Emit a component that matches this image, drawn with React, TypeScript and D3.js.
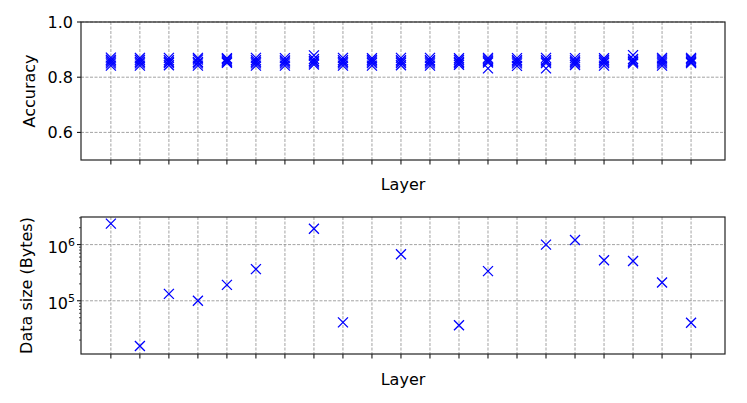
import React from 'react';
import * as d3 from 'd3';

// layer indices (x axis, no tick labels drawn)
const layers = [0, 1, 2, 3, 4, 5, 6, 7, 8, 9, 10, 11, 12, 13, 14, 15, 16, 17, 18, 19, 20];

// accuracy of several runs per layer
const accRun1 = [0.871, 0.870, 0.870, 0.870, 0.869, 0.870, 0.869, 0.879, 0.870, 0.869, 0.870, 0.870, 0.869, 0.870, 0.869, 0.870, 0.869, 0.869, 0.880, 0.870, 0.870];
const accRun2 = [0.863, 0.863, 0.862, 0.864, 0.865, 0.862, 0.861, 0.866, 0.862, 0.863, 0.862, 0.862, 0.863, 0.864, 0.862, 0.862, 0.861, 0.863, 0.866, 0.864, 0.865];
const accRun3 = [0.857, 0.856, 0.856, 0.855, 0.860, 0.856, 0.857, 0.859, 0.856, 0.857, 0.857, 0.857, 0.856, 0.858, 0.857, 0.857, 0.856, 0.857, 0.860, 0.857, 0.860];
const accRun4 = [0.850, 0.850, 0.851, 0.850, 0.856, 0.850, 0.850, 0.853, 0.850, 0.851, 0.851, 0.850, 0.851, 0.853, 0.850, 0.851, 0.850, 0.851, 0.855, 0.850, 0.855];
const accRun5 = [0.842, 0.842, 0.843, 0.842, 0.852, 0.842, 0.842, 0.846, 0.842, 0.842, 0.843, 0.842, 0.845, 0.832, 0.841, 0.832, 0.844, 0.842, 0.850, 0.842, 0.851];
const accRuns = [accRun1, accRun2, accRun3, accRun4, accRun5];

// data size in bytes (null = no point for that layer)
const dataSize: (number | null)[] = [2.36e6, 1.57e4, 1.33e5, 1.0e5, 1.92e5, 3.66e5, null, 1.92e6, 4.13e4, null, 6.73e5, null, 3.66e4, 3.37e5, null, 1.0e6, 1.21e6, 5.26e5, 5.12e5, 2.12e5, 4.06e4];

const accTicks = [0.6, 0.8, 1.0];
const sizeTicks = [1e5, 1e6];

const W = 747;
const H = 403;
const left = 81;
const right = 725;
const FONT = 'DejaVu Sans, sans-serif';
const BLUE = '#0000ff';
const GRID = '#8c8c8c';

const Cross = ({ x, y }: { x: number; y: number }) => {
  const r = 5;
  return (
    <path
      d={`M${x - r},${y - r}L${x + r},${y + r}M${x - r},${y + r}L${x + r},${y - r}`}
      stroke={BLUE}
      strokeWidth={1.3}
      fill="none"
    />
  );
};

const App = () => {
  const x = d3.scaleLinear().domain([-1.03, 21.17]).range([left, right]);

  // top panel
  const top1 = 22, bot1 = 160;
  const yAcc = d3.scaleLinear().domain([0.5, 1.0]).range([bot1, top1]);

  // bottom panel
  const top2 = 217, bot2 = 354;
  const ySize = d3.scaleLog().domain([1.13e4, 3.1e6]).range([bot2, top2]);
  const minorTicks: number[] = [];
  for (let e = 4; e <= 6; e++) {
    for (let m = 2; m <= 9; m++) {
      const v = m * Math.pow(10, e);
      if (v >= 1.13e4 && v <= 3.1e6) minorTicks.push(v);
    }
  }

  const xGrid = (t: number, b: number) =>
    layers.map((l) => (
      <g key={'g' + l}>
        <line x1={x(l)} x2={x(l)} y1={t} y2={b} stroke={GRID} strokeWidth={0.8} strokeDasharray="3,1.5" />
        <line x1={x(l)} x2={x(l)} y1={b} y2={b + 4.5} stroke="#000" strokeWidth={1} />
      </g>
    ));

  return (
    <svg width={W} height={H} style={{ position: 'fixed', left: 0, top: 0, background: '#fff' }} fontFamily={FONT}>
      <rect width={W} height={H} fill="#fff" />

      {/* ---- accuracy panel ---- */}
      {xGrid(top1, bot1)}
      {accTicks.map((t) => (
        <g key={'ya' + t}>
          <line x1={left} x2={right} y1={yAcc(t)} y2={yAcc(t)} stroke={GRID} strokeWidth={0.8} strokeDasharray="3,1.5" />
          <line x1={left - 4} x2={left} y1={yAcc(t)} y2={yAcc(t)} stroke="#000" />
          <text x={left - 8} y={yAcc(t)} dy="0.36em" textAnchor="end" fontSize={16} fill="#000">
            {t.toFixed(1)}
          </text>
        </g>
      ))}
      {accRuns.map((run, ri) =>
        run.map((v, i) => <Cross key={`a${ri}-${i}`} x={x(layers[i])} y={yAcc(v)} />)
      )}
      <rect x={left} y={top1} width={right - left} height={bot1 - top1} fill="none" stroke="#222" strokeWidth={1.2} />
      <text transform={`translate(35,${(top1 + bot1) / 2}) rotate(-90)`} textAnchor="middle" fontSize={16} fill="#000">
        Accuracy
      </text>
      <text x={(left + right) / 2} y={190} textAnchor="middle" fontSize={16} fill="#000">
        Layer
      </text>

      {/* ---- data size panel ---- */}
      {xGrid(top2, bot2)}
      {sizeTicks.map((t) => (
        <g key={'ys' + t}>
          <line x1={left} x2={right} y1={ySize(t)} y2={ySize(t)} stroke={GRID} strokeWidth={0.8} strokeDasharray="3,1.5" />
          <line x1={left - 4} x2={left} y1={ySize(t)} y2={ySize(t)} stroke="#000" />
          <text x={left - 13} y={ySize(t) + 8} textAnchor="end" fontSize={16} fill="#000">
            10
          </text>
          <text x={left - 13} y={ySize(t) + 1} fontSize={11} fill="#000">
            {Math.round(Math.log10(t))}
          </text>
        </g>
      ))}
      {minorTicks.map((t) => (
        <line key={'m' + t} x1={left - 2} x2={left} y1={ySize(t)} y2={ySize(t)} stroke="#000" strokeWidth={0.7} />
      ))}
      {dataSize.map((v, i) => (v == null ? null : <Cross key={'s' + i} x={x(layers[i])} y={ySize(v)} />))}
      <rect x={left} y={top2} width={right - left} height={bot2 - top2} fill="none" stroke="#222" strokeWidth={1.2} />
      <text transform={`translate(32,${(top2 + bot2) / 2}) rotate(-90)`} textAnchor="middle" fontSize={16} fill="#000">
        Data size (Bytes)
      </text>
      <text x={(left + right) / 2} y={385} textAnchor="middle" fontSize={16} fill="#000">
        Layer
      </text>
    </svg>
  );
};

export default App;
